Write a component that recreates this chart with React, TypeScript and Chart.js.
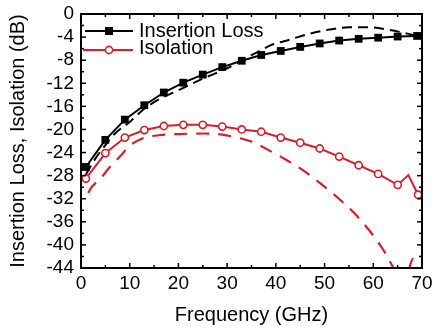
import React, { useEffect, useRef } from "react";
import { Chart, registerables } from "chart.js";

Chart.register(...registerables);

// ---------- data ----------
const ilMeasX = [1, 5, 9, 13, 17, 21, 25, 29, 33, 37, 41, 45, 49, 53, 57, 61, 65, 69];
const ilMeasY = [-26.5, -21.8, -18.3, -15.8, -13.6, -11.9, -10.5, -9.2, -8.1, -7.1, -6.4, -5.7, -5.1, -4.6, -4.3, -4.1, -3.9, -3.8];

const ilSimX = [1, 3, 5, 7, 10, 13, 16, 20, 25, 30, 33, 36, 39, 43, 47, 51, 55, 59, 63, 67, 69.5];
const ilSimY = [-27.8, -25, -22.7, -20.7, -18.7, -16.4, -14.8, -13.2, -11.2, -9.4, -8.0, -6.7, -5.4, -4.4, -3.4, -2.7, -2.3, -2.3, -2.7, -3.4, -3.9];

const isoMeasX = [1, 5, 9, 13, 17, 21, 25, 29, 33, 37, 41, 45, 49, 53, 57, 61, 65, 67.2, 69.2];
const isoMeasY = [-28.5, -24.1, -21.4, -20.1, -19.4, -19.2, -19.2, -19.5, -20.0, -20.4, -21.4, -22.3, -23.3, -24.7, -26.2, -27.7, -29.6, -27.9, -31.3];
const isoMarker = [1, 1, 1, 1, 1, 1, 1, 1, 1, 1, 1, 1, 1, 1, 1, 1, 1, 0, 1];

const isoSimX = [1.5, 2, 4, 6, 8, 10, 12.5, 16, 20, 25, 29, 32, 35, 39, 42, 46, 48, 51, 54, 56, 58, 60, 62, 64, 65, 66, 67.4, 68.1, 68.8];
const isoSimY = [-31, -30.2, -28.5, -26.4, -24.7, -22.8, -21.6, -21.0, -20.8, -20.7, -20.9, -21.4, -22.1, -23.8, -25.2, -27.3, -28.6, -30.6, -32.8, -34.4, -36.3, -38.4, -40.8, -43.8, -45.5, -47, -44, -42.4, -44.5];

const xTickValues = [0, 10, 20, 30, 40, 50, 60, 70];
const xMinorValues = [5, 15, 25, 35, 45, 55, 65];
const yTickValues = [0, -4, -8, -12, -16, -20, -24, -28, -32, -36, -40, -44];
const yMinorValues = [-2, -6, -10, -14, -18, -22, -26, -30, -34, -38, -42];

const legendLabels = ["Insertion Loss", "Isolation"];
const xTitle = "Frequency (GHz)";
const yTitle = "Insertion Loss, Isolation (dB)";

const RED = "#d81e28";
const FONT = '"Liberation Sans", Arial, sans-serif';

const pts = (xs: number[], ys: number[]) => xs.map((x, i) => ({ x, y: ys[i] }));

const framePlugin = {
  id: "frame",
  afterDatasetsDraw(chart: any) {
    const { ctx, chartArea: a, scales } = chart;
    const x = scales.x;
    const y = scales.y;
    ctx.save();
    ctx.strokeStyle = "#000";
    ctx.lineWidth = 1.5;
    const line = (x1: number, y1: number, x2: number, y2: number) => {
      ctx.beginPath();
      ctx.moveTo(x1, y1);
      ctx.lineTo(x2, y2);
      ctx.stroke();
    };
    const xt = (v: number, L: number) => {
      const p = x.getPixelForValue(v);
      line(p, a.bottom, p, a.bottom - L);
      line(p, a.top, p, a.top + L);
    };
    const yt = (v: number, L: number) => {
      const p = y.getPixelForValue(v);
      line(a.left, p, a.left + L, p);
      line(a.right, p, a.right - L, p);
    };
    xTickValues.forEach((v) => xt(v, 5));
    xMinorValues.forEach((v) => xt(v, 3));
    yTickValues.forEach((v) => yt(v, 5));
    yMinorValues.forEach((v) => yt(v, 3));
    ctx.lineWidth = 2;
    ctx.strokeRect(a.left, a.top, a.right - a.left, a.bottom - a.top);
    ctx.restore();
  },
};

const legendPlugin = {
  id: "customLegend",
  afterDraw(chart: any) {
    const { ctx } = chart;
    ctx.save();
    // row 1
    ctx.strokeStyle = "#000";
    ctx.lineWidth = 2;
    ctx.beginPath();
    ctx.moveTo(85, 31);
    ctx.lineTo(133, 31);
    ctx.stroke();
    ctx.fillStyle = "#000";
    ctx.fillRect(105, 27, 8, 8);
    // row 2
    ctx.strokeStyle = RED;
    ctx.beginPath();
    ctx.moveTo(83, 50);
    ctx.lineTo(133, 50);
    ctx.stroke();
    ctx.fillStyle = "#fff";
    ctx.lineWidth = 1.6;
    ctx.beginPath();
    ctx.arc(109, 50, 3.6, 0, Math.PI * 2);
    ctx.fill();
    ctx.stroke();
    ctx.fillStyle = "#000";
    ctx.font = `20px ${FONT}`;
    ctx.textBaseline = "middle";
    ctx.textAlign = "left";
    ctx.fillText(legendLabels[0], 139, 31);
    ctx.fillText(legendLabels[1], 139, 48);
    ctx.restore();
  },
};

export default function App() {
  const ref = useRef<HTMLCanvasElement>(null);
  useEffect(() => {
    const chart = new Chart(ref.current as HTMLCanvasElement, {
      type: "line",
      data: {
        datasets: [
          {
            data: pts(ilMeasX, ilMeasY),
            borderColor: "#000",
            backgroundColor: "#000",
            borderWidth: 2,
            pointStyle: "rect",
            pointRadius: 5.5,
            pointBackgroundColor: "#000",
            pointBorderWidth: 0,
            tension: 0,
            order: 1,
            clip: 0,
          },
          {
            data: pts(isoMeasX, isoMeasY),
            borderColor: RED,
            backgroundColor: "#fff",
            borderWidth: 2,
            pointStyle: "circle",
            pointRadius: isoMarker.map((m) => (m ? 3.6 : 0)),
            pointBackgroundColor: "#fff",
            pointBorderColor: RED,
            pointBorderWidth: 1.6,
            tension: 0,
            order: 2,
            clip: 0,
          },
          {
            data: pts(ilSimX, ilSimY),
            borderColor: "#000",
            borderWidth: 2,
            borderDash: [10, 6],
            pointRadius: 0,
            cubicInterpolationMode: "monotone",
            order: 3,
            clip: 0,
          },
          {
            data: pts(isoSimX, isoSimY),
            borderColor: RED,
            borderWidth: 2.2,
            borderDash: [13, 9],
            pointRadius: 0,
            cubicInterpolationMode: "monotone",
            order: 4,
            clip: 0,
          },
        ] as any,
      },
      plugins: [framePlugin, legendPlugin],
      options: {
        responsive: false,
        animation: false,
        events: [],
        layout: { padding: { top: 14, right: 10, left: 0, bottom: 0 } },
        plugins: { legend: { display: false }, tooltip: { enabled: false } },
        scales: {
          x: {
            type: "linear",
            min: 0,
            max: 70,
            afterBuildTicks: (s: any) => {
              s.ticks = xTickValues.map((v) => ({ value: v }));
            },
            afterFit: (s: any) => {
              s.height = 61;
              s.paddingLeft = 0;
              s.paddingRight = 0;
            },
            grid: { display: false, drawTicks: false },
            border: { display: false },
            ticks: {
              color: "#000",
              font: { family: FONT, size: 19 },
              padding: 4,
              maxRotation: 0,
              autoSkip: false,
            },
            title: {
              display: true,
              text: xTitle,
              color: "#000",
              font: { family: FONT, size: 20 },
              padding: { top: 0, bottom: 2 },
            },
          },
          y: {
            type: "linear",
            min: -44,
            max: 0,
            afterBuildTicks: (s: any) => {
              s.ticks = yTickValues.map((v) => ({ value: v }));
            },
            afterFit: (s: any) => {
              s.width = 81;
              s.paddingTop = 0;
              s.paddingBottom = 0;
            },
            grid: { display: false, drawTicks: false },
            border: { display: false },
            ticks: {
              color: "#000",
              font: { family: FONT, size: 19 },
              padding: 7,
              autoSkip: false,
            },
            title: {
              display: true,
              text: yTitle,
              color: "#000",
              font: { family: FONT, size: 20 },
              padding: { top: 6, bottom: 0 },
            },
          },
        },
      } as any,
    });
    return () => chart.destroy();
  }, []);
  return (
    <div style={{ position: "absolute", left: 0, top: 0, width: 432, height: 329, background: "#fff" }}>
      <canvas ref={ref} width={432} height={329} style={{ display: "block" }} />
    </div>
  );
}
